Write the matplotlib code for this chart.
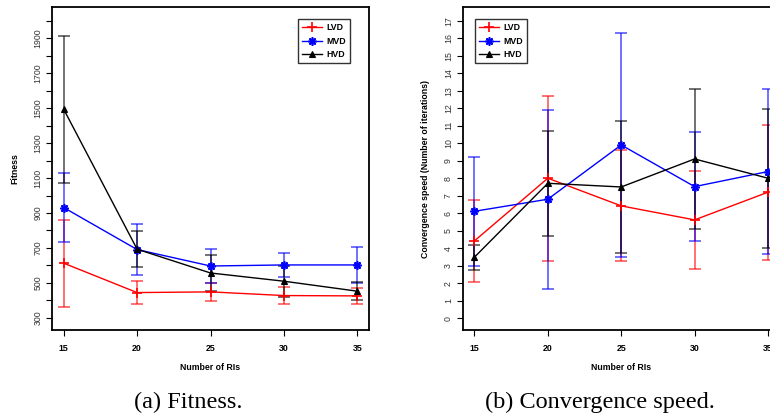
import matplotlib
matplotlib.use("Agg")
import matplotlib.pyplot as plt
import numpy as np

# ---------------- data ----------------
num_ris = [15, 20, 25, 30, 35]
series = ["LVD", "MVD", "HVD"]

fit_lvd = [613, 445, 449, 428, 426]
fit_lvd_sd = [248, 65, 52, 50, 47]
fit_mvd = [931, 691, 597, 603, 603]
fit_mvd_sd = [195, 145, 100, 68, 103]
fit_hvd = [1493, 693, 557, 510, 453]
fit_hvd_sd = [422, 103, 103, 88, 50]

conv_lvd = [4.42, 8.0, 6.42, 5.62, 7.2]
conv_lvd_sd = [2.32, 4.72, 3.17, 2.8, 3.86]
conv_mvd = [6.11, 6.8, 9.9, 7.52, 8.38]
conv_mvd_sd = [3.12, 5.1, 6.42, 3.11, 4.7]
conv_hvd = [3.49, 7.71, 7.5, 9.1, 8.0]
conv_hvd_sd = [0.72, 3.0, 3.76, 4.02, 3.96]

fit_yticks = list(range(300, 2001, 100))
fit_yticklabels = [str(v) if (v // 100) % 2 == 1 else "" for v in fit_yticks]
conv_yticks = list(range(0, 18))

captions = ["(a) Fitness.", "(b) Convergence speed."]

# ---------------- style ----------------
W, H = 770, 417
fig = plt.figure(figsize=(W / 100, H / 100), dpi=100)
plt.rcParams['font.family'] = ['Liberation Sans', 'DejaVu Sans']

colors = ["#ff0000", "#0000ff", "#000000"]
markers = ["+", (8, 2, 0), "^"]
msizes = [7, 6, 4.5]
mews = [1.2, 1.2, 0.8]


def draw(ax, means, sds, yticks, yticklabels, ylim, ylabel, legend_x):
    for m, s, c in zip(means, sds, colors):
        ax.errorbar(num_ris, m, yerr=s, fmt="none", ecolor=c, elinewidth=1.3,
                    capsize=4, capthick=1.3, alpha=0.6, zorder=2)
    handles = []
    for m, c, mk, ms, mw, lab in zip(means, colors, markers, msizes, mews, series):
        h, = ax.plot(num_ris, m, color=c, lw=1.0, marker=mk, ms=ms, mew=mw,
                     mfc=c, mec=c, label=lab, zorder=3)
        handles.append(h)
    ax.set_xlim(14.2, 35.8)
    ax.set_ylim(*ylim)
    ax.set_xticks(num_ris)
    ax.set_xticklabels([str(v) for v in num_ris], fontsize=6.3, fontweight="bold")
    ax.set_yticks(yticks)
    ax.set_yticklabels(yticklabels, fontsize=6.3, rotation=90, va="center",
                       color="#333333")
    ax.tick_params(axis="both", direction="out", length=4, width=0.8, pad=3)
    ax.tick_params(axis="x", pad=6)
    for sp in ax.spines.values():
        sp.set_linewidth(1.3)
    ax.set_xlabel("Number of RIs", fontsize=6.3, fontweight="bold", labelpad=7)
    ax.set_ylabel(ylabel, fontsize=6.3, fontweight="bold", labelpad=10)
    leg = ax.legend(handles=handles, loc="upper left", bbox_to_anchor=(legend_x, 0.962),
                    borderaxespad=0, frameon=True, fancybox=False, edgecolor="black",
                    prop={"size": 6.3, "weight": "bold"}, handlelength=2.3,
                    handletextpad=0.5, labelspacing=0.5, borderpad=0.45)
    leg.get_frame().set_linewidth(1.0)


ax1 = fig.add_axes([52 / W, 1 - 330 / H, 317 / W, 323 / H])
draw(ax1, [fit_lvd, fit_mvd, fit_hvd], [fit_lvd_sd, fit_mvd_sd, fit_hvd_sd],
     fit_yticks, fit_yticklabels, (231, 2078), "Fitness", 0.776)

ax2 = fig.add_axes([462.7 / W, 1 - 330 / H, 317 / W, 323 / H])
draw(ax2, [conv_lvd, conv_mvd, conv_hvd], [conv_lvd_sd, conv_mvd_sd, conv_hvd_sd],
     conv_yticks, [str(v) for v in conv_yticks], (-0.67, 17.78),
     "Convergence speed (Number of iterations)", 0.038)

fig.text(188 / W, 1 - 402 / H, captions[0], ha="center", va="center",
         fontsize=17.5, family=["Liberation Serif", "DejaVu Serif"])
fig.text(600 / W, 1 - 402 / H, captions[1], ha="center", va="center",
         fontsize=17.5, family=["Liberation Serif", "DejaVu Serif"])

fig.savefig("out.png", dpi=100)
